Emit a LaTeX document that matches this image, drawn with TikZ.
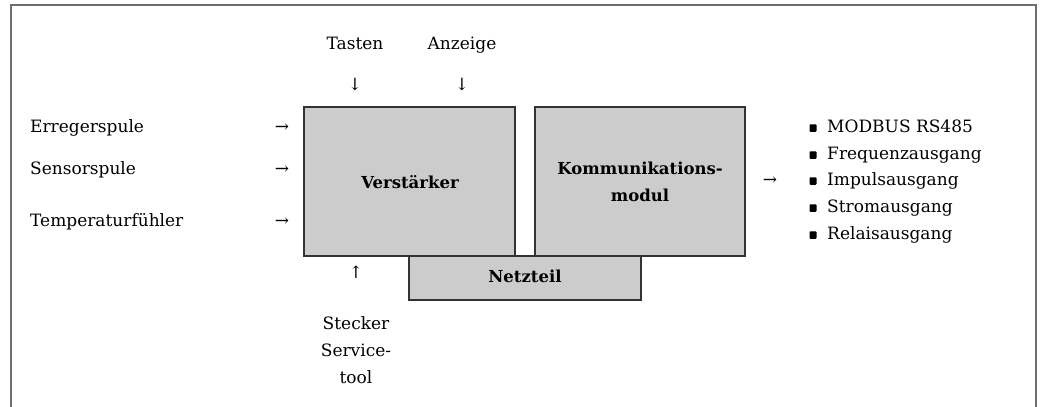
\documentclass[tikz,border=0pt]{standalone}
\usepackage{fontspec}
\setmainfont{DejaVu Serif}
\definecolor{boxfill}{HTML}{CCCCCC}
\definecolor{boxline}{HTML}{333333}
\definecolor{framecol}{HTML}{6E6E6E}
\begin{document}
\begin{tikzpicture}[x=1pt,y=-1pt,
  lbl/.style={inner sep=0pt,text height=12pt,text depth=4pt,font=\fontsize{17}{27}\selectfont},
  glyph/.style={inner sep=0pt,font=\fontsize{17}{18}\selectfont},
  blk/.style={draw=boxline,line width=1.1pt,fill=boxfill},
  blktext/.style={inner sep=0pt,font=\fontsize{16.5}{27}\selectfont\bfseries,align=center},
  bul/.style={inner sep=0pt,minimum width=7pt,minimum height=7.5pt,fill=black,rounded corners=0.9pt}
]
\useasboundingbox (0,0) rectangle (1045,407);
% frame
\draw[framecol,line width=1.4pt] (11,407) -- (11,5) -- (1036,5) -- (1036,407);
% blocks
\draw[blk] (304,107) rectangle (515,256);
\draw[blk] (535,107) rectangle (745,256);
\draw[blk] (409,256) rectangle (641,300);
\node[blktext] (verst) at (410,182) {Verstärker};
\node[blktext] (komm) at (640,182) {Kommunikations-\\modul};
\node[blktext,text height=12pt,text depth=4pt] (netz) at (525,278.5) {Netzteil};
% top inputs
\node[lbl] (tasten) at (355,45) {Tasten};
\node[lbl] (anzeige) at (462,45) {Anzeige};
\node[glyph] (a1) at (355,85) {↓};
\node[glyph] (a2) at (462,85) {↓};
% left inputs
\node[lbl,anchor=west] (erreger) at (30,128) {Erregerspule};
\node[lbl,anchor=west] (sensor) at (30,170) {Sensorspule};
\node[lbl,anchor=west] (temp) at (30,222) {Temperaturfühler};
\node[glyph] (a3) at (282,128) {→};
\node[glyph] (a4) at (282,170) {→};
\node[glyph] (a5) at (282,222) {→};
% bottom input
\node[glyph] (a6) at (356,272) {↑};
\node[inner sep=0pt,align=center,font=\fontsize{17}{27}\selectfont] (stecker) at (356,350) {Stecker\\Service-\\tool};
% outputs
\node[glyph] (a7) at (770,181) {→};
\foreach \y/\t [count=\i] in {128/MODBUS RS485,155/Frequenzausgang,181/Impulsausgang,208/Stromausgang,235/Relaisausgang}{
  \node[bul] (b\i) at (813,\y) {};
  \node[lbl,anchor=west] (o\i) at (827,\y) {\t};
}
\end{tikzpicture}
\end{document}
